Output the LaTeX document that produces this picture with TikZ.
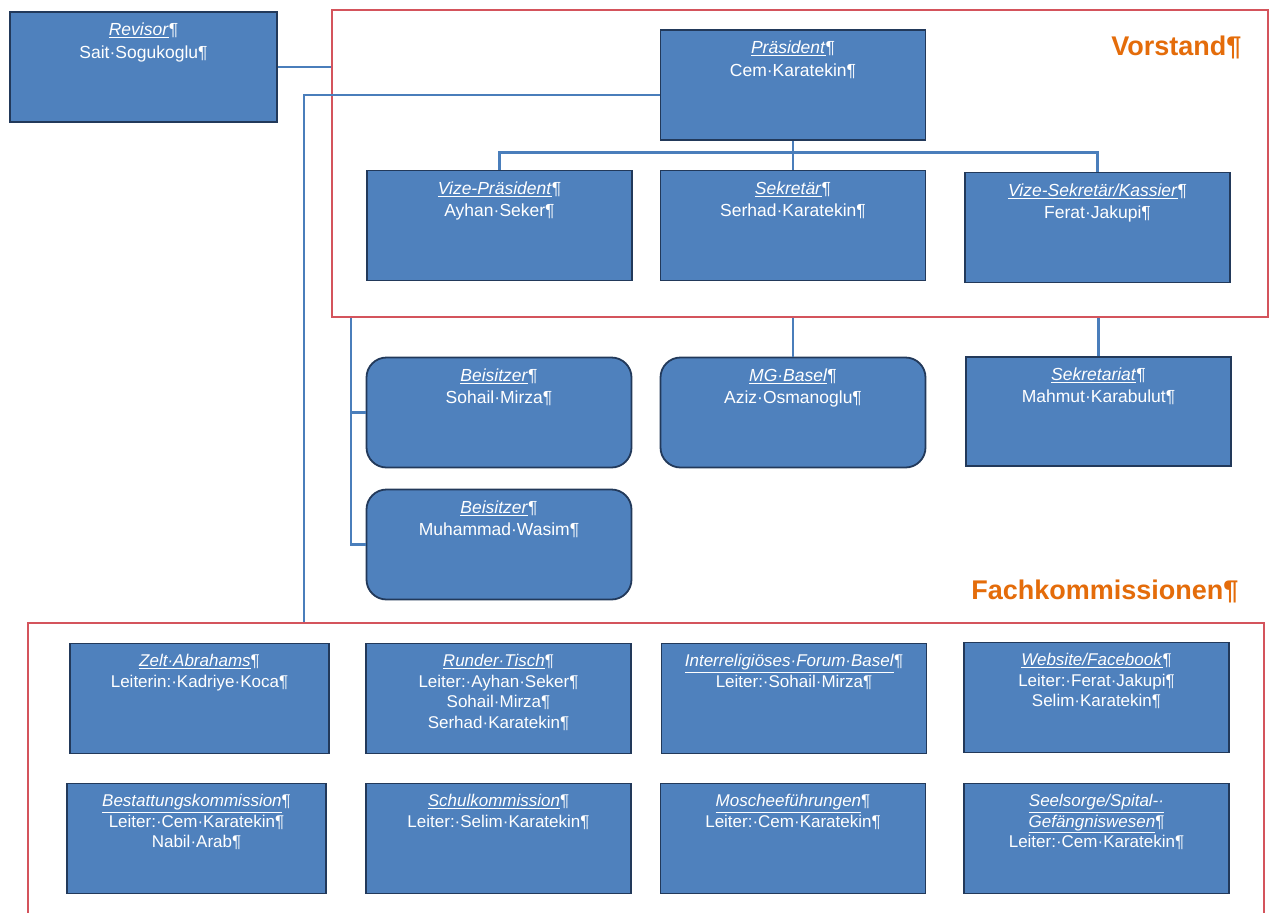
\documentclass[tikz,border=0pt]{standalone}
\usepackage{fontspec}
\setmainfont{Liberation Sans}
\usetikzlibrary{positioning}
\definecolor{OrgBlue}{HTML}{4F81BD}
\definecolor{OrgEdge}{HTML}{22395A}
\definecolor{OrgLine}{HTML}{4A7EBB}
\definecolor{OrgRed}{HTML}{D4545C}
\definecolor{OrgOrange}{HTML}{E46C0A}
\newcommand{\amt}[1]{\underline{\textit{#1}}¶}
\newcommand{\amtnb}[1]{\underline{\textit{#1}}}
\newcommand{\inhalt}[1]{\parbox[c][100pt][t]{258pt}{\centering\vspace{6pt}#1}}

\tikzset{
  orgbox/.style={draw=OrgEdge, fill=OrgBlue, line width=1.8pt, inner sep=0pt,
    minimum width=265pt, minimum height=110pt, text=white,
    font=\fontsize{17.5}{22.5}\selectfont},
  roundbox/.style={orgbox, rounded corners=20pt},
  kommbox/.style={orgbox, font=\fontsize{17}{20.5}\selectfont},
  conn/.style={OrgLine, line width=2.4pt},
  frame/.style={draw=OrgRed, line width=2pt, inner sep=0pt},
  grouplabel/.style={text=OrgOrange, anchor=east, font=\fontsize{27}{32}\selectfont\bfseries},
}

\begin{document}
\begin{tikzpicture}[x=1pt,y=-1pt]
\path[use as bounding box] (0,0) rectangle (1272,913);
\fill[white] (0,0) rectangle (1272,913);
\clip (0,0) rectangle (1272,913);

% frames
\node[frame, minimum width=936pt, minimum height=307pt] (vorstand) at (800,163.5) {};
\node[frame, minimum width=1236pt, minimum height=300pt] (fachk) at (646,773) {};
\node[grouplabel] (vorstandT) at (1245,47) {Vorstand¶};
\node[grouplabel] (fachkT) at (1242,591) {Fachkommissionen¶};

% Revisor und Vorstand
\node[orgbox, minimum width=267pt] (rev) at (143.5,67) {\inhalt{\amt{Revisor}\\Sait·Sogukoglu¶}};
\node[orgbox] (praes) at (793,85) {\inhalt{\amt{Präsident}\\Cem·Karatekin¶}};
\node[orgbox] (vpraes) at (499.5,225.5) {\inhalt{\amt{Vize-Präsident}\\Ayhan·Seker¶}};
\node[orgbox] (sek) at (793,225.5) {\inhalt{\amt{Sekretär}\\Serhad·Karatekin¶}};
\node[orgbox] (vsek) at (1097.5,227.5) {\inhalt{\amt{Vize-Sekretär/Kassier}\\Ferat·Jakupi¶}};

% Beisitzer, MG, Sekretariat
\node[roundbox] (beis1) at (499,412.5) {\inhalt{\amt{Beisitzer}\\Sohail·Mirza¶}};
\node[roundbox] (beis2) at (499,544.5) {\inhalt{\amt{Beisitzer}\\Muhammad·Wasim¶}};
\node[roundbox] (mg) at (793,412.5) {\inhalt{\amt{MG·Basel}\\Aziz·Osmanoglu¶}};
\node[orgbox, minimum height=109pt] (sekr) at (1098.5,411.5) {\inhalt{\amt{Sekretariat}\\Mahmut·Karabulut¶}};

% Fachkommissionen
\node[kommbox, minimum width=259pt] (zelt) at (199.5,698.5) {\inhalt{\amt{Zelt·Abrahams}\\Leiterin:·Kadriye·Koca¶}};
\node[kommbox] (runder) at (498.5,698.5) {\inhalt{\amt{Runder·Tisch}\\Leiter:·Ayhan·Seker¶\\Sohail·Mirza¶\\Serhad·Karatekin¶}};
\node[kommbox] (forum) at (794,698.5) {\inhalt{\amt{Interreligiöses·Forum·Basel}\\Leiter:·Sohail·Mirza¶}};
\node[kommbox] (web) at (1096.5,697.5) {\inhalt{\amt{Website/Facebook}\\Leiter:·Ferat·Jakupi¶\\Selim·Karatekin¶}};
\node[kommbox, minimum width=259pt] (best) at (196.5,838.5) {\inhalt{\amt{Bestattungskommission}\\Leiter:·Cem·Karatekin¶\\Nabil·Arab¶}};
\node[kommbox] (schul) at (498.5,838.5) {\inhalt{\amt{Schulkommission}\\Leiter:·Selim·Karatekin¶}};
\node[kommbox] (mosch) at (793,838.5) {\inhalt{\amt{Moscheeführungen}\\Leiter:·Cem·Karatekin¶}};
\node[kommbox] (seel) at (1096.5,838.5) {\inhalt{\amtnb{Seelsorge/Spital-·}\\\amt{Gefängniswesen}\\Leiter:·Cem·Karatekin¶}};

% Verbindungen
\coordinate (knick) at (304,95);
\coordinate (bsx) at (351,0);
\draw[conn] (rev.east) -- (rev.east -| vorstand.west);
\draw[conn] ([yshift=-10pt]praes.west) -- (knick) -- (knick |- fachk.north);
\draw[conn] (praes.south) -- (sek.north);
\draw[conn] (vpraes.north) -- ++(0,-17) -| (vsek.north);
\draw[conn] (bsx |- vorstand.south) |- (beis2.west);
\draw[conn] (bsx |- beis1.west) -- (beis1.west);
\draw[conn] (vorstand.south -| mg.north) -- (mg.north);
\draw[conn] (vorstand.south -| sekr.north) -- (sekr.north);
\end{tikzpicture}
\end{document}
